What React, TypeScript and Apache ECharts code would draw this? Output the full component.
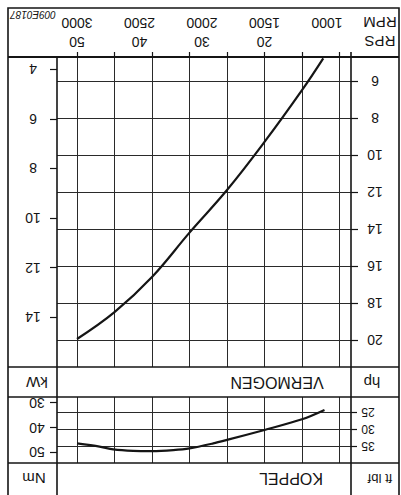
import React, { useEffect, useRef } from "react";
import * as echarts from "echarts";

// ---- data ----
const RPM_TICKS = [3000, 2500, 2000, 1500, 1000];
const RPS_LABELS = ["50", "40", "30", "20"];
const GRID_RPM = [900, 1200, 1500, 1800, 2100, 2400, 2700, 3000];
const KW_TICKS = [4, 6, 8, 10, 12, 14];
const HP_TICKS = [6, 8, 10, 12, 14, 16, 18, 20];
const NM_TICKS = [30, 40, 50];
const FTLBF_TICKS = [25, 30, 35];

const POWER_RPM = [3000, 2700, 2400, 2100, 1800, 1500, 1200, 1030];
const POWER_HP = [19.95, 18.5, 16.6, 14.2, 11.9, 9.3, 6.5, 4.78];

const TORQUE_RPM = [3000, 2820, 2710, 2550, 2400, 2230, 2100, 1910, 1800, 1500, 1200, 1020];
const TORQUE_NM = [46.4, 47.7, 48.8, 49.4, 49.5, 49.1, 48.4, 46.4, 45.0, 41.0, 36.7, 32.9];

// axis ranges / unit factors
const RPM_MIN = 808;
const RPM_MAX = 3160;
const HP_MIN = 4.708;
const HP_MAX = 21.465;
const HP_PER_KW = 1.341;
const NM_MIN = 27.7;
const NM_MAX = 54.31;
const NM_PER_FTLBF = 1.3558;

const FONT = "Liberation Sans, Arial, sans-serif";
const INK = "#151515";
const GRIDC = "#2a2a2a";

function rotText(text: string, x: number, y: number, size: number, extra: any = {}) {
  return {
    type: "text",
    x,
    y,
    rotation: Math.PI,
    z: 110,
    style: {
      text,
      fill: INK,
      font: `${extra.fontStyle ? extra.fontStyle + " " : ""}${size}px ${FONT}`,
      align: "center",
      verticalAlign: "middle",
    },
  };
}

function hline(y: number, x1: number, x2: number, w = 1.6) {
  return { type: "line", z: 100, shape: { x1, y1: y, x2, y2: y }, style: { stroke: INK, lineWidth: w } };
}
function vline(x: number, y1: number, y2: number, w = 1.6) {
  return { type: "line", z: 100, shape: { x1: x, y1, x2: x, y2 }, style: { stroke: INK, lineWidth: w } };
}

export default function App() {
  const ref = useRef<HTMLDivElement>(null);
  useEffect(() => {
    if (!ref.current) return;
    const chart = echarts.init(ref.current, undefined, { renderer: "svg" });

    const labelBase = {
      rotate: 180,
      align: "center",
      verticalAlign: "middle",
      color: INK,
      fontFamily: FONT,
      formatter: (v: number) => String(v),
    };
    const tickStyle = { color: INK, width: 1.2 };

    const xBase = {
      type: "value",
      min: RPM_MIN,
      max: RPM_MAX,
      inverse: true,
      axisLine: { show: false },
      splitLine: { show: false },
    };

    const gridLineStyle = { color: GRIDC, width: 1, type: "solid" };

    const option: any = {
      animation: false,
      backgroundColor: "#ffffff",
      grid: [
        { left: 57, right: 50, top: 57, height: 310, show: false },
        { left: 57, right: 50, top: 397, height: 66, show: false },
      ],
      xAxis: [
        {
          ...xBase,
          gridIndex: 0,
          position: "top",
          axisTick: { show: true, customValues: GRID_RPM, length: 5, lineStyle: tickStyle },
          axisLabel: { ...labelBase, customValues: RPM_TICKS, margin: 34, fontSize: 14 },
        },
        {
          ...xBase,
          gridIndex: 0,
          position: "top",
          axisTick: { show: false },
          axisLabel: {
            ...labelBase,
            customValues: RPM_TICKS.slice(0, RPS_LABELS.length),
            formatter: (v: number) => RPS_LABELS[RPM_TICKS.indexOf(v)] ?? "",
            margin: 15,
            fontSize: 14,
          },
        },
        {
          ...xBase,
          gridIndex: 1,
          position: "bottom",
          axisTick: { show: false },
          axisLabel: { show: false },
        },
      ],
      yAxis: [
        {
          type: "value",
          gridIndex: 0,
          position: "right",
          min: HP_MIN,
          max: HP_MAX,
          inverse: true,
          axisLine: { show: false },
          splitLine: { show: false },
          axisTick: { show: true, customValues: HP_TICKS, length: 7, lineStyle: tickStyle },
          axisLabel: { ...labelBase, customValues: HP_TICKS, margin: 24, fontSize: 14 },
        },
        {
          type: "value",
          gridIndex: 0,
          position: "left",
          min: HP_MIN / HP_PER_KW,
          max: HP_MAX / HP_PER_KW,
          inverse: true,
          axisLine: { show: false },
          splitLine: { show: false },
          axisTick: { show: true, customValues: KW_TICKS, length: 7, lineStyle: tickStyle },
          axisLabel: { ...labelBase, customValues: KW_TICKS, margin: 24, fontSize: 14 },
        },
        {
          type: "value",
          gridIndex: 1,
          position: "left",
          min: NM_MIN,
          max: NM_MAX,
          inverse: true,
          axisLine: { show: false },
          splitLine: { show: false },
          axisTick: { show: true, customValues: NM_TICKS, length: 7, lineStyle: tickStyle },
          axisLabel: { ...labelBase, customValues: NM_TICKS, margin: 20, fontSize: 14 },
        },
        {
          type: "value",
          gridIndex: 1,
          position: "right",
          min: NM_MIN / NM_PER_FTLBF,
          max: NM_MAX / NM_PER_FTLBF,
          inverse: true,
          axisLine: { show: false },
          splitLine: { show: false },
          axisTick: { show: true, customValues: FTLBF_TICKS, length: 6, lineStyle: tickStyle },
          axisLabel: { ...labelBase, customValues: FTLBF_TICKS, margin: 17, fontSize: 12 },
        },
      ],
      series: [
        {
          type: "line",
          name: "VERMOGEN",
          xAxisIndex: 0,
          yAxisIndex: 0,
          data: POWER_RPM.map((r, i) => [r, POWER_HP[i]]),
          smooth: 0.4,
          showSymbol: false,
          symbol: "none",
          lineStyle: { color: INK, width: 2.2 },
          z: 5,
          markLine: {
            silent: true,
            symbol: ["none", "none"],
            label: { show: false },
            lineStyle: gridLineStyle,
            z: 1,
            data: [
              ...GRID_RPM.map((v) => ({ xAxis: v })),
              ...HP_TICKS.map((v) => ({ yAxis: v })),
            ],
          },
        },
        {
          type: "line",
          name: "KOPPEL",
          xAxisIndex: 2,
          yAxisIndex: 2,
          data: TORQUE_RPM.map((r, i) => [r, TORQUE_NM[i]]),
          smooth: 0.3,
          showSymbol: false,
          symbol: "none",
          lineStyle: { color: INK, width: 2.2 },
          z: 5,
          markLine: {
            silent: true,
            symbol: ["none", "none"],
            label: { show: false },
            lineStyle: gridLineStyle,
            z: 1,
            data: [
              ...GRID_RPM.map((v) => ({ xAxis: v })),
              ...FTLBF_TICKS.map((v) => ({ yAxis: v * NM_PER_FTLBF })),
            ],
          },
        },
      ],
      graphic: [
        {
          type: "rect",
          z: 100,
          shape: { x: 8, y: 8, width: 391, height: 500 },
          style: { fill: "none", stroke: INK, lineWidth: 1.6 },
        },
        hline(57, 8, 399, 1.8),
        hline(367, 8, 399),
        hline(397, 8, 399),
        hline(463, 8, 399),
        vline(57, 57, 495),
        vline(351, 52, 495),
        rotText("009E0187", 33, 14, 10, { fontStyle: "italic" }),
        rotText("RPM", 380, 22, 15),
        rotText("RPS", 380, 41, 15),
        rotText("kW", 37, 382, 15),
        rotText("VERMOGEN", 277, 382, 16),
        rotText("hp", 372, 382, 15),
        rotText("Nm", 34, 478, 15),
        rotText("KOPPEL", 291, 478, 16),
        rotText("ft lbf", 380, 478, 13),
      ],
    };

    chart.setOption(option);
    return () => chart.dispose();
  }, []);

  return (
    <div
      ref={ref}
      style={{ position: "absolute", left: 0, top: 0, width: 401, height: 495, background: "#fff" }}
    />
  );
}
